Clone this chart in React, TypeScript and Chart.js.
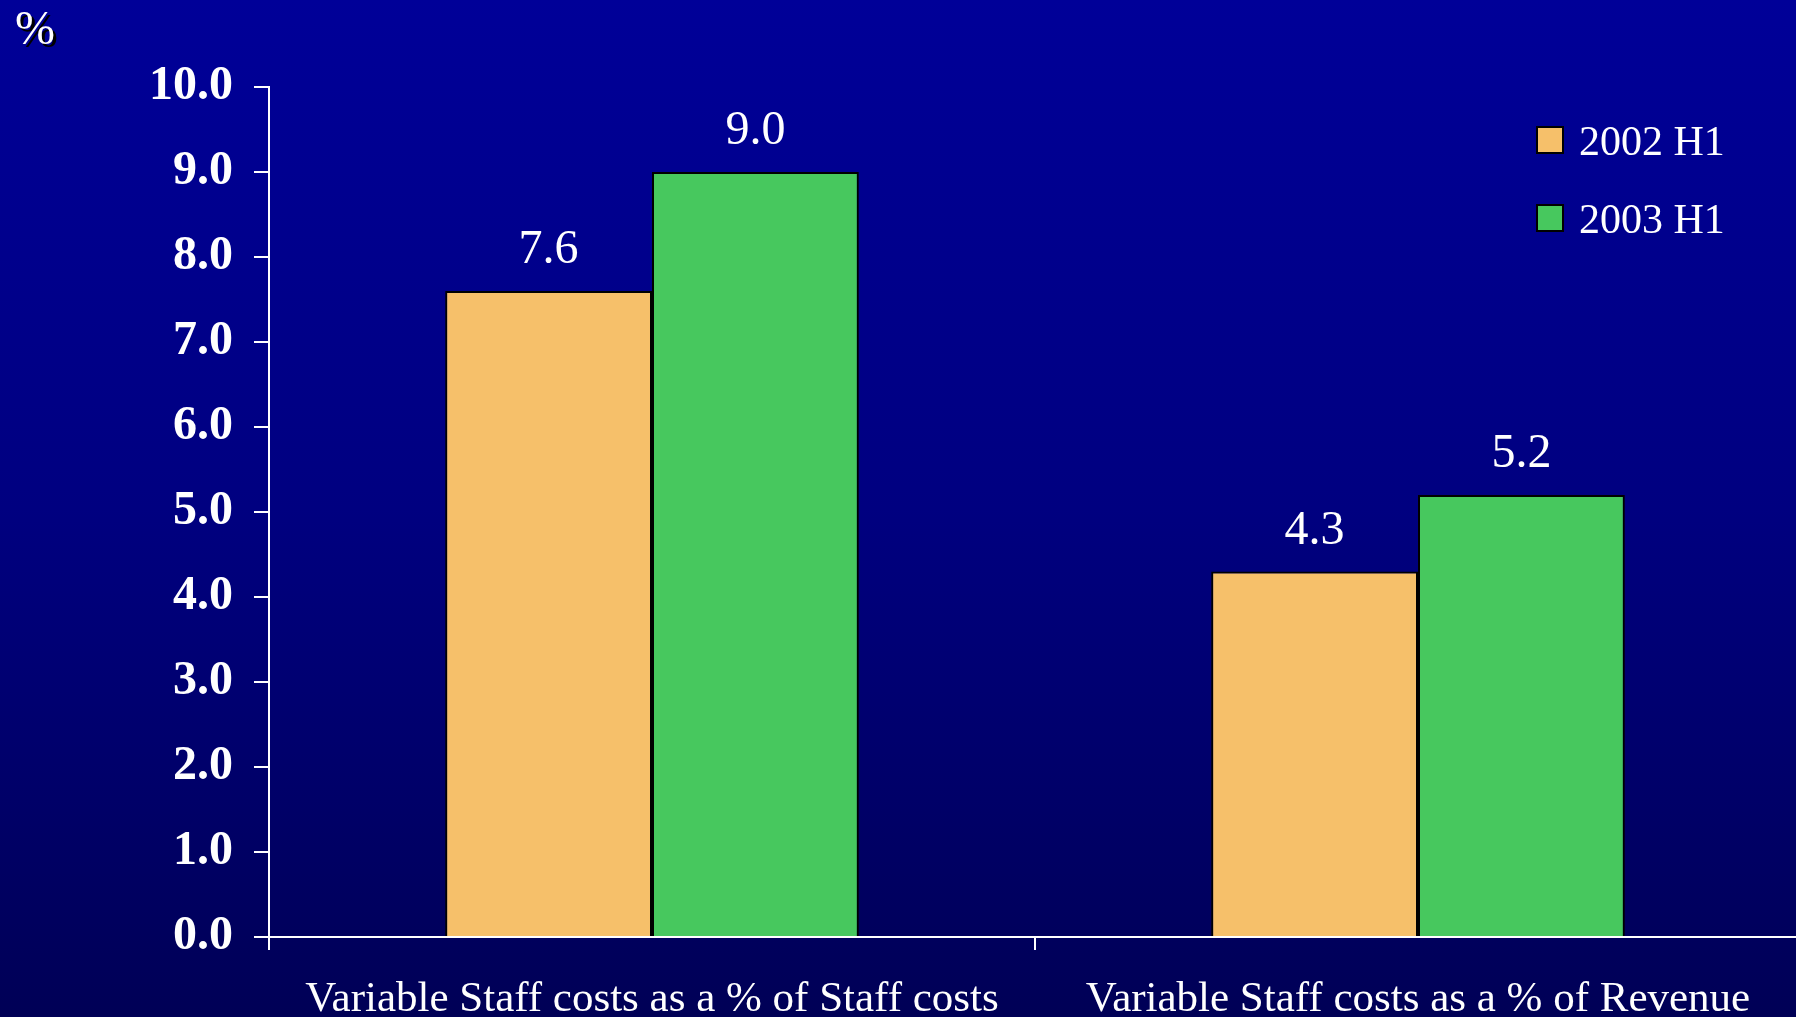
import React, { useEffect, useRef } from "react";
import { Chart, registerables } from "chart.js";

Chart.register(...registerables);

// Chart data
const categories = [
  "Variable Staff costs as a % of Staff costs",
  "Variable Staff costs as a % of Revenue",
];
const seriesNames = ["2002 H1", "2003 H1"];
const values2002H1 = [7.6, 4.3];
const values2003H1 = [9.0, 5.2];
const seriesColors = ["#F6C06A", "#47C85E"];
const yMin = 0;
const yMax = 10;
const yStep = 1;
const unitLabel = "%";

const SERIF = '"Liberation Serif", "Times New Roman", serif';

// Value labels drawn above each bar
const valueLabelPlugin = {
  id: "valueLabels",
  afterDatasetsDraw(chart: any) {
    const ctx = chart.ctx;
    ctx.save();
    ctx.font = `48px ${SERIF}`;
    ctx.fillStyle = "#ffffff";
    ctx.textAlign = "center";
    ctx.textBaseline = "alphabetic";
    chart.data.datasets.forEach((ds: any, di: number) => {
      const meta = chart.getDatasetMeta(di);
      meta.data.forEach((el: any, i: number) => {
        const v = ds.data[i] as number;
        ctx.fillText(v.toFixed(1), el.x, el.y - 28);
      });
    });
    ctx.restore();
  },
};

// Unit label and legend
const decorPlugin = {
  id: "decor",
  afterDraw(chart: any) {
    const ctx = chart.ctx;
    ctx.save();
    // unit label with dark drop shadow
    ctx.font = `48px ${SERIF}`;
    ctx.textAlign = "left";
    ctx.textBaseline = "alphabetic";
    ctx.fillStyle = "#000000";
    ctx.fillText(unitLabel, 18, 47);
    ctx.fillStyle = "#ffffff";
    ctx.fillText(unitLabel, 15, 44);

    // legend
    const boxX = 1537;
    const firstBoxY = 127;
    const rowGap = 78;
    const box = 26;
    ctx.font = `42px ${SERIF}`;
    chart.data.datasets.forEach((ds: any, i: number) => {
      const y = firstBoxY + i * rowGap;
      ctx.fillStyle = ds.backgroundColor;
      ctx.fillRect(boxX, y, box, box);
      ctx.lineWidth = 2;
      ctx.strokeStyle = "#000000";
      ctx.strokeRect(boxX, y, box, box);
      ctx.fillStyle = "#ffffff";
      ctx.fillText(ds.label, 1579, y + 28);
    });
    ctx.restore();
  },
};

export default function App() {
  const canvasRef = useRef<HTMLCanvasElement | null>(null);

  useEffect(() => {
    const canvas = canvasRef.current;
    if (!canvas) return;
    const chart = new Chart(canvas, {
      type: "bar",
      data: {
        labels: categories,
        datasets: [
          {
            label: seriesNames[0],
            data: values2002H1,
            backgroundColor: seriesColors[0],
            borderColor: "#000000",
            borderWidth: 2,
          },
          {
            label: seriesNames[1],
            data: values2003H1,
            backgroundColor: seriesColors[1],
            borderColor: "#000000",
            borderWidth: 2,
          },
        ],
      },
      options: {
        responsive: false,
        animation: false,
        devicePixelRatio: 1,
        layout: { padding: { top: 87, right: 5, left: 0, bottom: 0 } },
        datasets: {
          bar: { categoryPercentage: 0.54, barPercentage: 1.0 },
        },
        plugins: {
          legend: { display: false },
          tooltip: { enabled: false },
          title: { display: false },
        },
        scales: {
          x: {
            offset: true,
            grid: {
              display: true,
              drawOnChartArea: false,
              drawTicks: true,
              tickLength: 13,
              color: "#ffffff",
              lineWidth: 2,
              offset: true,
            },
            border: { display: true, color: "#ffffff", width: 2 },
            ticks: {
              color: "#ffffff",
              font: { family: SERIF, size: 43 },
              padding: 24,
              maxRotation: 0,
              autoSkip: false,
            },
            afterFit(scale: any) {
              scale.height = 80;
            },
          },
          y: {
            min: yMin,
            max: yMax,
            grid: {
              display: true,
              drawOnChartArea: false,
              drawTicks: true,
              tickLength: 15,
              color: "#ffffff",
              lineWidth: 2,
            },
            border: { display: true, color: "#ffffff", width: 2 },
            ticks: {
              stepSize: yStep,
              color: "#ffffff",
              font: { family: SERIF, size: 48, weight: "bold" },
              padding: 21,
              callback: (v: any) => Number(v).toFixed(1),
            },
            afterFit(scale: any) {
              scale.width = 269;
            },
          },
        },
      },
      plugins: [valueLabelPlugin, decorPlugin],
    });
    return () => chart.destroy();
  }, []);

  return (
    <div
      style={{
        position: "fixed",
        left: 0,
        top: 0,
        width: 1796,
        height: 1017,
        overflow: "hidden",
        background: "linear-gradient(to bottom, #000098 0%, #000080 50%, #000056 100%)",
      }}
    >
      <canvas ref={canvasRef} width={1806} height={1017} style={{ display: "block" }} />
    </div>
  );
}
